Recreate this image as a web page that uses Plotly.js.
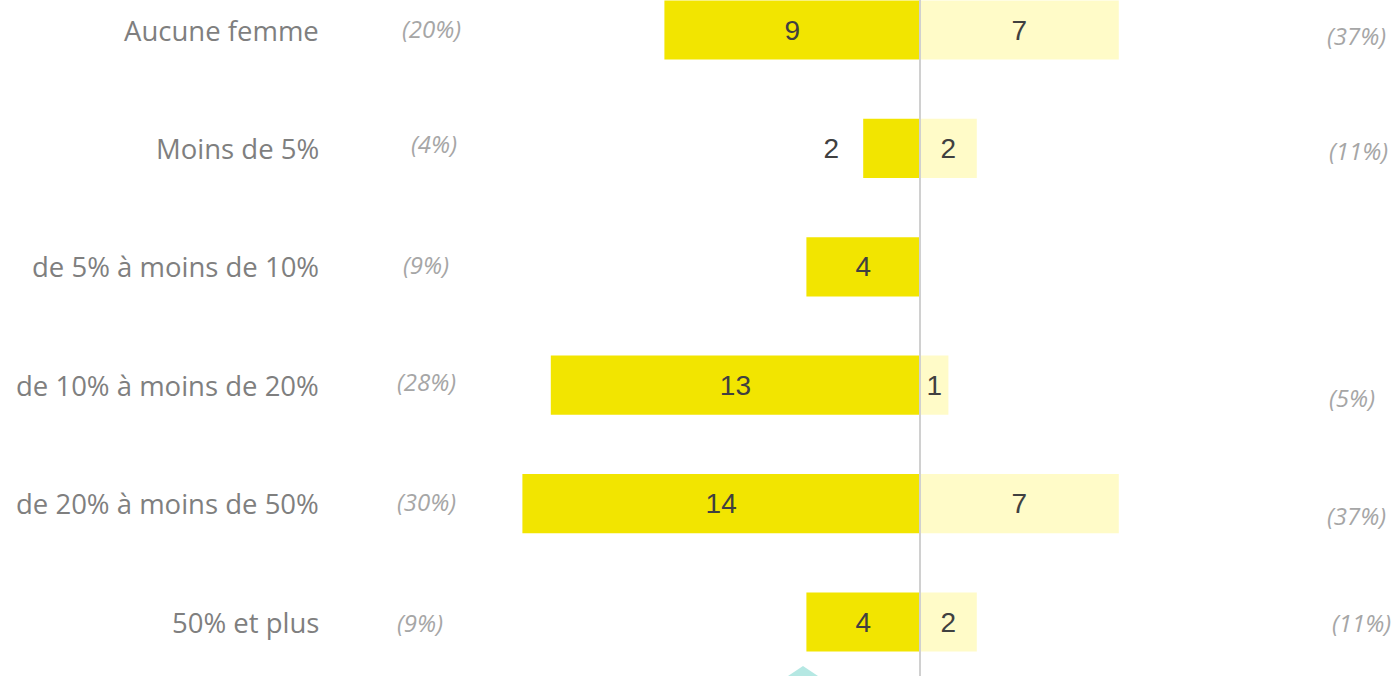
<!DOCTYPE html>
<html>
<head>
<meta charset="utf-8">
<script src="https://cdn.plot.ly/plotly-3.0.1.min.js"></script>
<style>html,body{margin:0;padding:0;background:#fff;}#chart{width:1391px;height:676px;}</style>
</head>
<body>
<div id="chart"></div>
<script>
// Data
const categories = ["Aucune femme", "Moins de 5%", "de 5% à moins de 10%", "de 10% à moins de 20%", "de 20% à moins de 50%", "50% et plus"];
const leftValues = [9, 2, 4, 13, 14, 4];
const rightValues = [7, 2, 0, 1, 7, 2];
const leftPct = ["(20%)", "(4%)", "(9%)", "(28%)", "(30%)", "(9%)"];
const rightPct = ["(37%)", "(11%)", "", "(5%)", "(37%)", "(11%)"];

// Layout helpers (positions, not data)
const W = 1391, H = 676;
const centerPx = 920, pxPerUnit = 28.4;
const rowPx = 118.4, firstRowPx = 30;
const leftPctX = [400, 409, 401, 395, 395, 395];
const leftPctShift = [2, 5, 2, 4, 2, 0];
const rightPctX = [1325, 1327, 1327, 1327, 1325, 1330];
const rightPctShift = [-5, -2, 0, -12, -12, 0];

const yIdx = categories.map((_, i) => i);
const PAD = '\u00a0\u00a0\u2009';

const leftTrace = {
  type: 'bar', orientation: 'h',
  y: yIdx,
  x: leftValues.map(v => -v),
  width: 0.5,
  marker: {color: '#F2E500'},
  text: leftValues.map(v => v <= 2 ? String(v) + PAD : String(v)),
  textposition: leftValues.map(v => v <= 2 ? 'outside' : 'inside'),
  insidetextanchor: 'middle',
  textangle: 0,
  constraintext: 'none',
  cliponaxis: false,
  textfont: {family: 'Liberation Sans, Arial, sans-serif', size: 28, color: '#404040'},
  hoverinfo: 'none'
};
const rightTrace = {
  type: 'bar', orientation: 'h',
  y: yIdx,
  x: rightValues,
  width: 0.5,
  marker: {color: '#FFFBC8'},
  text: rightValues.map(v => v > 0 ? String(v) : ''),
  textposition: 'inside',
  insidetextanchor: 'middle',
  textangle: 0,
  constraintext: 'none',
  cliponaxis: false,
  textfont: {family: 'Liberation Sans, Arial, sans-serif', size: 28, color: '#404040'},
  hoverinfo: 'none'
};

const annotations = [];
categories.forEach((c, i) => {
  annotations.push({
    xref: 'paper', yref: 'y', x: 321 / W, y: i, xanchor: 'right', yanchor: 'middle',
    text: c, showarrow: false,
    font: {family: 'Open Sans, Noto Sans, sans-serif', size: 27.5, color: '#7F7F7F'}
  });
  if (leftPct[i]) annotations.push({
    xref: 'paper', yref: 'y', x: leftPctX[i] / W, y: i, xanchor: 'left', yanchor: 'middle',
    yshift: leftPctShift[i],
    text: '<i>' + leftPct[i] + '</i>', showarrow: false,
    font: {family: 'Open Sans, Noto Sans, sans-serif', size: 24, color: '#A6A6A6'}
  });
  if (rightPct[i]) annotations.push({
    xref: 'paper', yref: 'y', x: rightPctX[i] / W, y: i, xanchor: 'left', yanchor: 'middle',
    yshift: rightPctShift[i],
    text: '<i>' + rightPct[i] + '</i>', showarrow: false,
    font: {family: 'Open Sans, Noto Sans, sans-serif', size: 24, color: '#A6A6A6'}
  });
});

const layout = {
  width: W, height: H,
  margin: {l: 0, r: 0, t: 0, b: 0, pad: 0},
  paper_bgcolor: '#ffffff', plot_bgcolor: '#ffffff',
  showlegend: false,
  barmode: 'overlay',
  xaxis: {
    range: [-centerPx / pxPerUnit, (W - centerPx) / pxPerUnit],
    showgrid: false, zeroline: false, showticklabels: false, ticks: '', fixedrange: true
  },
  yaxis: {
    range: [(H - firstRowPx) / rowPx, -firstRowPx / rowPx],
    showgrid: false, zeroline: false, showticklabels: false, ticks: '', fixedrange: true
  },
  shapes: [
    {type: 'line', xref: 'x', yref: 'paper', x0: 0, x1: 0, y0: 0, y1: 1,
     line: {color: '#D0D0D0', width: 2}, layer: 'above'},
    {type: 'path', xref: 'paper', yref: 'paper',
     path: 'M ' + (788 / W) + ' 0 L ' + (803 / W) + ' ' + (10 / H) + ' L ' + (818 / W) + ' 0 Z',
     fillcolor: '#B5E8E3', line: {width: 0}}
  ],
  annotations: annotations
};

Plotly.newPlot('chart', [leftTrace, rightTrace], layout, {displayModeBar: false, staticPlot: true});
</script>
</body>
</html>
